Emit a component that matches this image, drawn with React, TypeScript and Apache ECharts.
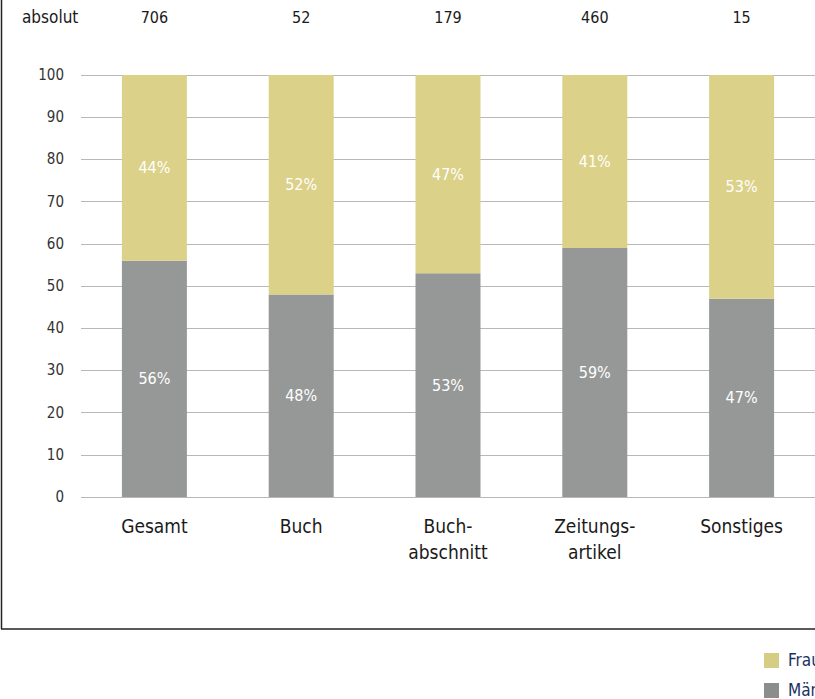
import React, { useEffect, useRef } from "react";
import * as echarts from "echarts";

const categories = ["Gesamt", "Buch", "Buch-\nabschnitt", "Zeitungs-\nartikel", "Sonstiges"];
const absolut = ["706", "52", "179", "460", "15"];
const maenner = [56, 48, 53, 59, 47];
const frauen = [44, 52, 47, 41, 53];
const yTicks = [0, 10, 20, 30, 40, 50, 60, 70, 80, 90, 100];

const FONT = "'Liberation Sans Narrow', 'DejaVu Sans Condensed', 'Roboto', sans-serif";

export default function App() {
  const ref = useRef<HTMLDivElement>(null);
  useEffect(() => {
    document.body.style.margin = "0";
    const chart = echarts.init(ref.current!, null, { renderer: "svg" });
    chart.setOption({
      animation: false,
      textStyle: { fontFamily: FONT },
      grid: { left: 81, top: 75, width: 735, height: 422 },
      xAxis: [
        {
          type: "category",
          data: categories,
          axisLine: { show: false },
          axisTick: { show: false },
          axisLabel: { color: "#1a1a1a", fontSize: 19, margin: 16, lineHeight: 26, fontFamily: FONT },
        },
        {
          type: "category",
          position: "top",
          data: absolut,
          axisLine: { show: false },
          axisTick: { show: false },
          axisLabel: { color: "#1a1a1a", fontSize: 16, margin: 50, fontFamily: FONT },
        },
      ],
      yAxis: {
        type: "value",
        min: 0,
        max: 100,
        interval: 10,
        axisLine: { show: false },
        axisTick: { show: false },
        axisLabel: { color: "#333", fontSize: 15, margin: 17, fontFamily: FONT,
          formatter: (v: number) => (yTicks.includes(v) ? String(v) : "") },
        splitLine: { lineStyle: { color: "#b8b8b8", width: 1 } },
      },
      series: [
        {
          name: "Männer",
          type: "bar",
          stack: "a",
          data: maenner,
          barWidth: 65,
          itemStyle: { color: "#959896" },
          label: { show: true, position: "inside", color: "#fff", fontSize: 16, formatter: "{c}%", fontFamily: FONT },
        },
        {
          name: "Frauen",
          type: "bar",
          stack: "a",
          data: frauen,
          barWidth: 65,
          itemStyle: { color: "#dcd188" },
          label: { show: true, position: "inside", color: "#fff", fontSize: 16, formatter: "{c}%", fontFamily: FONT },
        },
      ],
      graphic: [
        { type: "text", left: 22, top: 8, style: { text: "absolut", fontSize: 17, fill: "#1a1a1a", fontFamily: FONT } },
        { type: "line", shape: { x1: 1.5, y1: 0, x2: 1.5, y2: 629 }, style: { stroke: "#222", lineWidth: 1.5 } },
        { type: "line", shape: { x1: 1, y1: 629, x2: 815, y2: 629 }, style: { stroke: "#222", lineWidth: 1.5 } },
        { type: "rect", shape: { x: 764, y: 653, width: 15, height: 15 }, style: { fill: "#d6cd84" } },
        { type: "rect", shape: { x: 764, y: 683, width: 15, height: 15 }, style: { fill: "#8a8f8b" } },
        { type: "text", x: 788, y: 651, style: { text: "Frauen", fontSize: 17, fill: "#1c3160", fontFamily: FONT } },
        { type: "text", x: 788, y: 681, style: { text: "Männer", fontSize: 17, fill: "#1c3160", fontFamily: FONT } },
      ],
    });
    return () => chart.dispose();
  }, []);
  return <div ref={ref} style={{ width: 815, height: 699 }} />;
}
